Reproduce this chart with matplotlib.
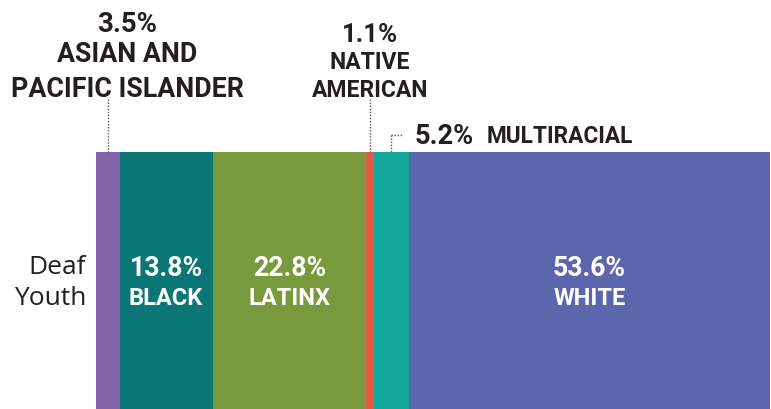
import numpy as np
import matplotlib
matplotlib.use('Agg')
import matplotlib.pyplot as plt
from matplotlib import transforms

groups = ['ASIAN AND\nPACIFIC ISLANDER', 'BLACK', 'LATINX', 'NATIVE\nAMERICAN',
          'MULTIRACIAL', 'WHITE']
shares = [3.5, 13.8, 22.8, 1.1, 5.2, 53.6]
colors = ['#8463A9', '#0A7675', '#789A3D', '#E05A42', '#12A59A', '#5B66AD']
row_label = 'Deaf\nYouth'

W, H = 771, 410
fig = plt.figure(figsize=(W / 100, H / 100), dpi=100)
ax = fig.add_axes([96 / W, 0, 674 / W, (H - 153) / H])

lefts = np.concatenate([[0], np.cumsum(shares)[:-1]])
ax.barh(0, shares, left=lefts, height=1, color=colors, linewidth=0)
ax.set_xlim(0, 100)
ax.set_ylim(-0.5, 0.5)
ax.axis('off')

mids = lefts + np.array(shares) / 2
# x in data, y in figure pixels from the top
tr = transforms.blended_transform_factory(ax.transData, fig.transFigure)
def fy(ypix):
    return 1 - ypix / H

dark = '#231F20'
bold = dict(family='Roboto', weight='bold', color=dark)

# labels inside the big segments
for i in [1, 2, 5]:
    ax.text(mids[i], fy(269), f'{shares[i]}%', transform=tr, ha='center',
            va='center', fontsize=19.2, family='Roboto', weight='bold',
            color='white')
    ax.text(mids[i], fy(298.5), groups[i], transform=tr, ha='center',
            va='center', fontsize=17, family='Roboto', weight='bold',
            color='white')

# leader lines for the small segments
dots = dict(color='#555555', lw=1, ls=(0, (1, 1.2)), transform=tr, clip_on=False)
ax.plot([mids[0], mids[0]], [fy(100), fy(153)], **dots)
ax.plot([mids[3], mids[3]], [fy(100), fy(153)], **dots)
ax.plot([mids[4], mids[4]], [fy(136), fy(153)], **dots)
ax.plot([mids[4], mids[4] + 1.8], [fy(136), fy(136)], **dots)

# asian / pacific islander
fig.text(127 / W, fy(24), f'{shares[0]}%', ha='center', va='center',
         fontsize=19.8, **bold)
fig.text(127 / W, fy(72), groups[0], ha='center', va='center',
         fontsize=19.3, linespacing=1.35, **bold)

# native american
fig.text(370 / W, fy(35), f'{shares[3]}%', ha='center', va='center',
         fontsize=18.5, **bold)
fig.text(370 / W, fy(76.5), groups[3], ha='center', va='center',
         fontsize=16.5, linespacing=1.33, **bold)

# multiracial
fig.text(415 / W, fy(136.5), f'{shares[4]}%', ha='left', va='center',
         fontsize=19.5, **bold)
fig.text(487 / W, fy(136.5), groups[4], ha='left', va='center',
         fontsize=16.3, **bold)

fig.text(86 / W, fy(283), row_label, ha='right', va='center', fontsize=19,
         family='Open Sans', color=dark, linespacing=1.3)

fig.savefig('out.png', dpi=100)
